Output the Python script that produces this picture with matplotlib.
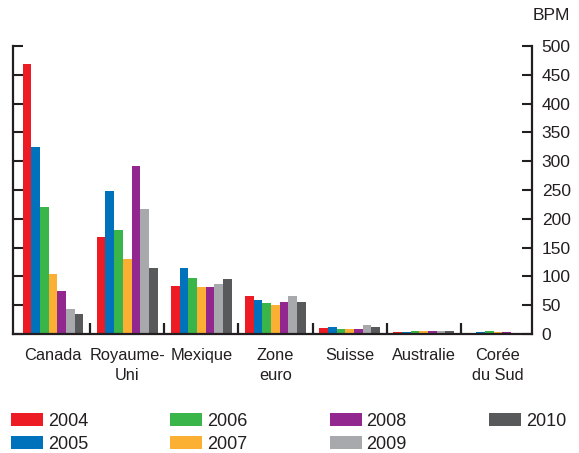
import matplotlib
matplotlib.use("Agg")
import matplotlib.pyplot as plt
import numpy as np

plt.rcParams['font.family'] = ['Liberation Sans', 'DejaVu Sans']

categories = ["Canada", "Royaume-\nUni", "Mexique", "Zone\neuro", "Suisse", "Australie", "Corée\ndu Sud"]
years = ["2004", "2005", "2006", "2007", "2008", "2009", "2010"]

# Values in BPM, one list per country, ordered by year 2004..2010
canada = [469, 325, 220, 104, 75, 44, 34]
royaume_uni = [168, 248, 181, 130, 292, 217, 114]
mexique = [83, 115, 98, 81, 81, 86, 95]
zone_euro = [66, 59, 53, 50, 55, 66, 55]
suisse = [10, 13, 8, 8, 9, 15, 12]
australie = [3.5, 3.5, 4.5, 4.5, 6, 4.5, 6]
coree = [0, 3, 5, 3, 3, 0, 0]

colors = ["#ed1c24", "#0072bc", "#39b54a", "#fbb034", "#92278f", "#a7a9ac", "#58595b"]
ink = "#231f20"

data = np.array([canada, royaume_uni, mexique, zone_euro, suisse, australie, coree])

fig = plt.figure(figsize=(5.79, 4.53), dpi=100)
ax = fig.add_axes([13 / 579, 1 - 334 / 453, (532 - 13) / 579, (334 - 46) / 453])

x = np.arange(len(categories))
width = 0.117
for i, year in enumerate(years):
    ax.bar(x + (i - 3) * width, data[:, i], width=width, color=colors[i],
           label=year, linewidth=0)

ax.set_xlim(-0.54, 6.46)
ax.set_ylim(0, 500)

for side in ["left", "right", "bottom"]:
    ax.spines[side].set_linewidth(1.6)
    ax.spines[side].set_color(ink)
ax.spines["top"].set_visible(False)

ax.set_yticks(np.arange(0, 501, 50))
ax.yaxis.set_ticks_position("both")
ax.tick_params(axis="y", which="major", direction="in", length=7, width=1.5,
               color=ink, left=True, right=True, labelleft=False, labelright=True,
               labelsize=12.5, labelcolor=ink, pad=7)

ax.set_xticks(x)
ax.set_xticklabels(categories, linespacing=1.45)
ax.set_xticks(np.arange(0.5, 6, 1), minor=True)
ax.tick_params(axis="x", which="major", length=0, labelsize=11.8, labelcolor=ink, pad=10)
ax.tick_params(axis="x", which="minor", direction="in", length=8, width=1.6, color=ink)

fig.text(551.5 / 579, 1 - 16 / 453, "BPM", ha="center", va="center", fontsize=12.5, color=ink)

handles, labels = ax.get_legend_handles_labels()
leg = fig.legend(handles, labels, ncol=4, loc="upper left",
                 bbox_to_anchor=(11 / 579, 1 - 413 / 453), frameon=False,
                 fontsize=13, handlelength=1.78, handleheight=0.72,
                 handletextpad=0.26, columnspacing=4.55, labelspacing=0.33,
                 borderpad=0, borderaxespad=0)
for t in leg.get_texts():
    t.set_color(ink)

fig.savefig("out.png", dpi=100)
